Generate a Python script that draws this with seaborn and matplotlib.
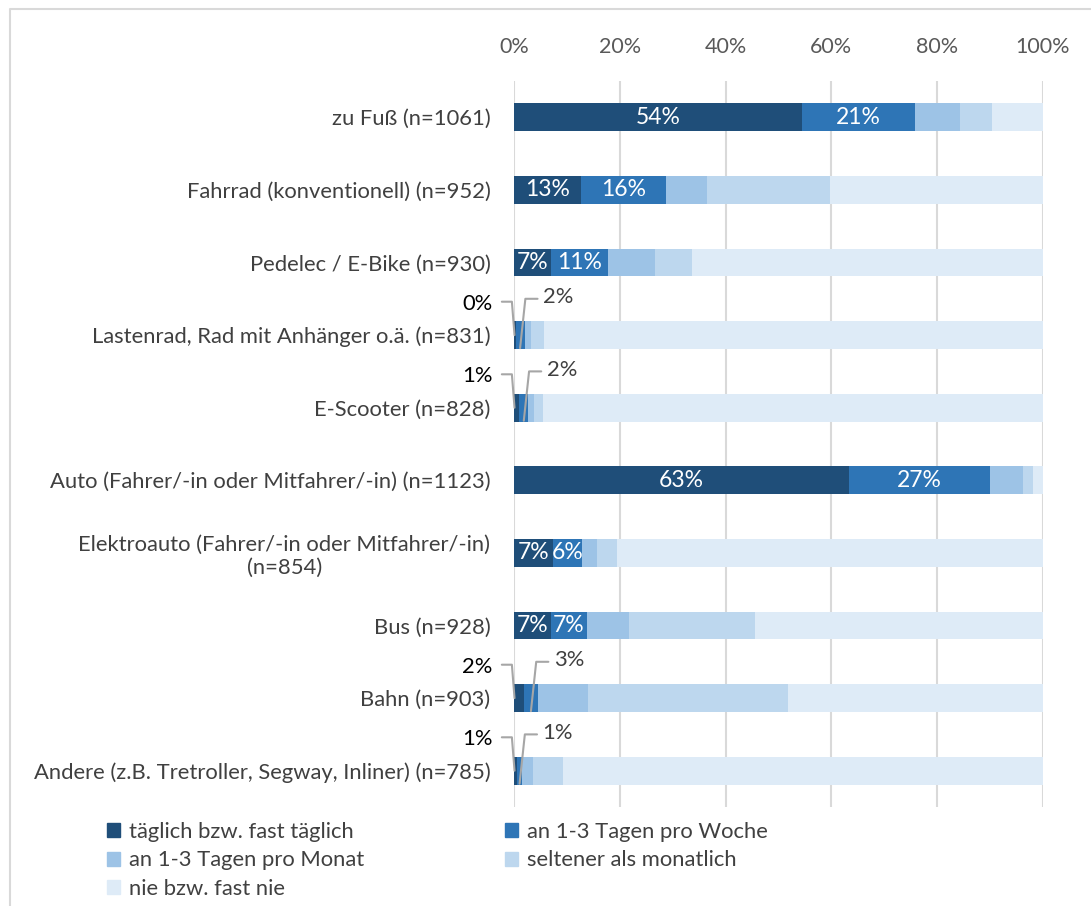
import numpy as np
import pandas as pd
import seaborn as sns
import matplotlib.pyplot as plt
from matplotlib.patches import Patch
from matplotlib.lines import Line2D

categories = [
    "zu Fuß (n=1061)",
    "Fahrrad (konventionell) (n=952)",
    "Pedelec / E-Bike (n=930)",
    "Lastenrad, Rad mit Anhänger o.ä. (n=831)",
    "E-Scooter (n=828)",
    "Auto (Fahrer/-in oder Mitfahrer/-in) (n=1123)",
    "Elektroauto (Fahrer/-in oder Mitfahrer/-in)\n(n=854)",
    "Bus (n=928)",
    "Bahn (n=903)",
    "Andere (z.B. Tretroller, Segway, Inliner) (n=785)",
]
series_names = [
    "täglich bzw. fast täglich",
    "an 1-3 Tagen pro Woche",
    "an 1-3 Tagen pro Monat",
    "seltener als monatlich",
    "nie bzw. fast nie",
]
taeglich = [54.4, 12.7, 7.0, 0.3, 1.0, 63.3, 7.3, 7.0, 1.9, 0.6]
woche    = [21.4, 16.1, 10.8, 1.7, 1.7, 26.6, 5.6, 6.8, 2.6, 0.9]
monat    = [8.5, 7.6, 8.9, 1.3, 1.0, 6.4, 2.8, 7.9, 9.5, 2.0]
seltener = [6.0, 23.3, 7.0, 2.4, 1.8, 1.8, 3.8, 23.8, 37.8, 5.7]
nie      = [9.7, 40.3, 66.3, 94.3, 94.5, 1.9, 80.5, 54.5, 48.2, 90.8]
colors = ["#1F4E79", "#2E75B6", "#9DC3E6", "#BDD7EE", "#DEEBF7"]
ticks = [0, 20, 40, 60, 80, 100]

df = pd.DataFrame(
    dict(zip(series_names, [taeglich, woche, monat, seltener, nie])),
    index=categories,
)
cum = df.cumsum(axis=1)

sns.set_theme(style="white")
plt.rcParams["font.family"] = ["Lato", "DejaVu Sans"]
fs = 15.8

fig = plt.figure(figsize=(10.91, 9.06), dpi=100)
ax = fig.add_axes([514 / 1091, 1 - 807 / 906, 529 / 1091, 726 / 906])

# stacked bars: draw cumulative totals from the back to the front
for name, col in reversed(list(zip(series_names, colors))):
    sns.barplot(x=cum[name].values, y=categories, color=col, orient="h",
                width=0.385, saturation=1, ax=ax, zorder=2,
                edgecolor=col, linewidth=0)

ax.set_xlim(0, 100)
ax.set_ylim(9.5, -0.5)
ax.set_xticks(ticks)
ax.set_xticklabels([f"{t}%" for t in ticks])
ax.xaxis.tick_top()
ax.tick_params(axis="x", length=0, pad=17, labelsize=15.5, labelcolor="#595959")
ax.tick_params(axis="y", length=0, pad=17, labelsize=fs, labelcolor="#404040")
for t in ax.get_yticklabels():
    t.set_multialignment("center")
ax.set_xlabel("")
ax.set_ylabel("")
for s in ax.spines.values():
    s.set_visible(False)
ax.grid(False)
for t in ticks:
    ax.axvline(t, color="#D9D9D9", lw=1.5, zorder=1)

# data labels
lead = "#A6A6A6"
for i, cat in enumerate(categories):
    v0, v1 = df.loc[cat, series_names[0]], df.loc[cat, series_names[1]]
    c0 = v0 / 2
    c1 = v0 + v1 / 2
    if v0 >= 5 and v1 >= 5:
        ax.text(c0, i, f"{v0:.0f}%", color="white", ha="center", va="center",
                fontsize=16.5, zorder=5)
        ax.text(c1, i, f"{v1:.0f}%", color="white", ha="center", va="center",
                fontsize=16.5, zorder=5)
    else:
        # left label with leader line to the bar start
        ax.plot([-2.3, -0.4, c0 - v0 / 2 + 0.1], [i - 0.46, i - 0.46, i],
                color=lead, lw=1.5, zorder=4, clip_on=False)
        ax.text(-4.0, i - 0.43, f"{v0:.0f}%", color="black", ha="right",
                va="center", fontsize=fs, zorder=5, clip_on=False)
        # right label with leader line into the segment
        ax.plot([c1 + 3.3, c1 + 1.0, c1], [i - 0.5, i - 0.5, i + 0.18],
                color=lead, lw=1.5, zorder=4, clip_on=False)
        ax.text(c1 + 4.3, i - 0.52, f"{v1:.0f}%", color="#404040", ha="left",
                va="center", fontsize=fs, zorder=5)

# legend (row-wise order)
handles = [Patch(facecolor=c, edgecolor=c) for c in colors]
order = [0, 2, 4, 1, 3]
fig.legend([handles[k] for k in order], [series_names[k] for k in order],
           ncol=2, loc="upper left", bbox_to_anchor=(107 / 1091, 1 - 822 / 906),
           frameon=False, fontsize=fs, handlelength=0.6, handleheight=0.6,
           handletextpad=0.4, columnspacing=6.4, labelspacing=0.38,
           labelcolor="#404040", borderaxespad=0, borderpad=0)

# chart area frame
fig.add_artist(Line2D([10 / 1091, 10 / 1091, 1], [0, 1 - 9 / 906, 1 - 9 / 906],
                      transform=fig.transFigure, color="#D9D9D9", lw=1.5))

fig.savefig("out.png", dpi=100)
